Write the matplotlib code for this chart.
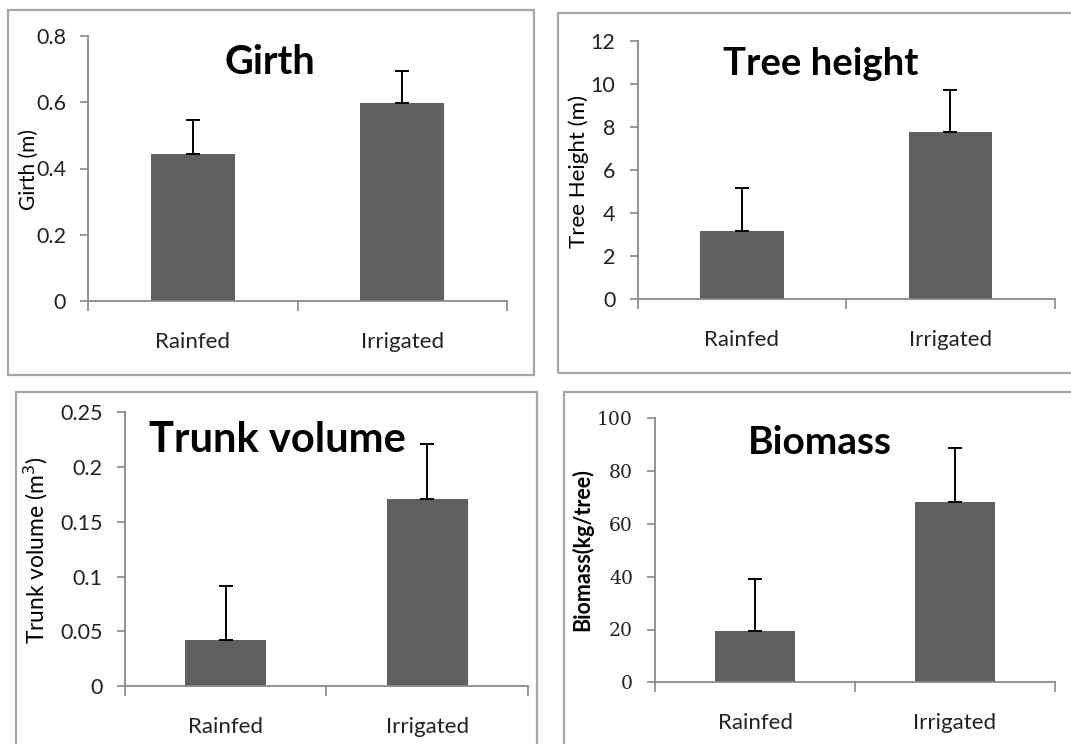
import matplotlib
matplotlib.use("Agg")
import matplotlib.pyplot as plt
from matplotlib.patches import Rectangle
from matplotlib.ticker import FixedLocator, NullFormatter, FixedFormatter

W, H = 1071, 744

categories = ["Rainfed", "Irrigated"]

girth = [0.444, 0.597]
girth_err = [0.102, 0.097]
girth_ticks = [0, 0.2, 0.4, 0.6, 0.8]
girth_ticklabels = ["0", "0.2", "0.4", "0.6", "0.8"]

height = [3.17, 7.78]
height_err = [1.98, 1.93]
height_ticks = [0, 2, 4, 6, 8, 10, 12]
height_ticklabels = ["0", "2", "4", "6", "8", "10", "12"]

volume = [0.0417, 0.1705]
volume_err = [0.0496, 0.0505]
volume_ticks = [0, 0.05, 0.1, 0.15, 0.2, 0.25]
volume_ticklabels = ["0", "0.05", "0.1", "0.15", "0.2", "0.25"]

biomass = [19.5, 68.3]
biomass_err = [19.7, 20.6]
biomass_ticks = [0, 20, 40, 60, 80, 100]
biomass_ticklabels = ["0", "20", "40", "60", "80", "100"]

BAR = "#5f5f5f"
SPINE = "#888888"
FRAME = "#a6a6a6"
SANS = ["Lato", "DejaVu Sans"]

fig = plt.figure(figsize=(W / 100, H / 100), dpi=100)
fig.patch.set_facecolor("white")


def fx(x):
    return x / W


def fy(y):
    return 1 - y / H


def frame(x0, y0, x1, y1):
    fig.patches.append(Rectangle((fx(x0), fy(y1)), fx(x1) - fx(x0), fy(y0) - fy(y1),
                                 transform=fig.transFigure, fill=False,
                                 edgecolor=FRAME, linewidth=1.6, zorder=0))


def panel(box, vals, errs, ticks, ticklabels, title, tpos, tsize, ylabel, ypos, ysize,
          yweight="normal", tickfont=SANS, ticksize=15.5, ypad=10, xpad=22, catsize=16):
    l, t, r, b = box
    ax = fig.add_axes([fx(l), fy(b), fx(r) - fx(l), fy(t) - fy(b)])
    x = range(len(vals))
    ax.bar(x, vals, width=0.4, color=BAR, zorder=2)
    ax.errorbar(x, vals, yerr=[[0] * len(errs), errs], fmt="none", ecolor="black",
                elinewidth=1.4, capsize=5, capthick=1.4, zorder=3)
    ax.set_xlim(-0.5, len(vals) - 0.5)
    ax.set_ylim(ticks[0], ticks[-1])
    ax.set_yticks(ticks)
    ax.set_yticklabels(ticklabels, fontfamily=tickfont, fontsize=ticksize, color="#222222")
    ax.xaxis.set_major_locator(FixedLocator([-0.5, 0.5, 1.5]))
    ax.xaxis.set_major_formatter(NullFormatter())
    ax.xaxis.set_minor_locator(FixedLocator(list(x)))
    ax.xaxis.set_minor_formatter(FixedFormatter(categories))
    ax.tick_params(axis="x", which="major", length=7, width=1.2, color=SPINE, direction="out")
    ax.tick_params(axis="x", which="minor", length=0, pad=xpad, labelsize=catsize)
    for lab in ax.xaxis.get_minorticklabels():
        lab.set_fontfamily(SANS)
        lab.set_color("#222222")
    ax.tick_params(axis="y", length=6, width=1.2, color=SPINE, direction="out", pad=ypad)
    for s in ["top", "right"]:
        ax.spines[s].set_visible(False)
    for s in ["left", "bottom"]:
        ax.spines[s].set_color(SPINE)
        ax.spines[s].set_linewidth(1.3)
    fig.text(fx(tpos[0]), fy(tpos[1]), title, fontsize=tsize, fontweight="bold",
             fontfamily=SANS, ha="center", va="center", color="black")
    fig.text(fx(ypos[0]), fy(ypos[1]), ylabel, fontsize=ysize, fontweight=yweight,
             fontfamily=SANS, ha="center", va="center", rotation=90, color="black")
    return ax


frame(8, 9.5, 534, 375)
frame(558, 12.7, 1080, 373)
frame(16, 392, 537, 760)
frame(563.7, 391.7, 1080, 760)

panel((88.3, 36, 507, 301), girth, girth_err, girth_ticks, girth_ticklabels,
      "Girth", (270, 62), 28.5, "Girth (m)", (29, 170), 15)
panel((637.5, 40.7, 1054.7, 299.3), height, height_err, height_ticks, height_ticklabels,
      "Tree height", (821, 64), 27.5, "Tree Height (m)", (579, 171), 16)
panel((124.8, 412.3, 528, 686), volume, volume_err, volume_ticks, volume_ticklabels,
      "Trunk volume", (277, 440), 30, "Trunk volume (m$^3$)", (36, 550), 16.5)
panel((655.1, 418.3, 1054.7, 682.3), biomass, biomass_err, biomass_ticks, biomass_ticklabels,
      "Biomass", (820, 443), 28, "Biomass(kg/tree)", (582, 550), 15.5, yweight="bold",
      tickfont=["DejaVu Serif"], ticksize=13.5)

fig.savefig("out.png", dpi=100)
